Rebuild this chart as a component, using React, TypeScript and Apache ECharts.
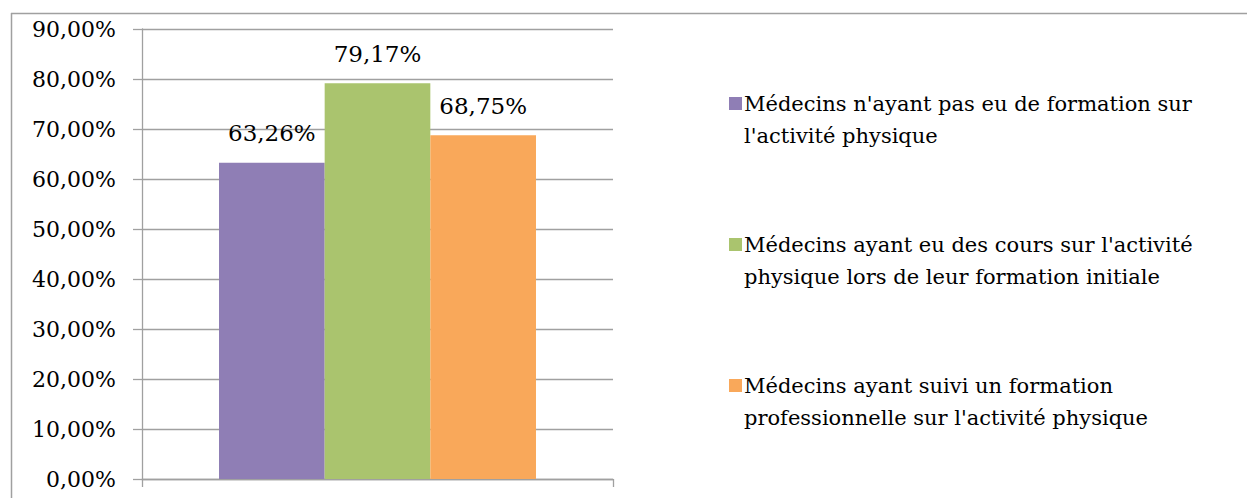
import React, { useEffect, useRef } from "react";
import * as echarts from "echarts";

const categories = [""];
const seriesNames = [
  "Médecins n'ayant pas eu de formation sur\nl'activité physique",
  "Médecins ayant eu des cours sur l'activité\nphysique lors de leur formation initiale",
  "Médecins ayant suivi un formation\nprofessionnelle sur l'activité physique",
];
const seriesValues = [63.26, 79.17, 68.75];
const seriesColors = ["#8F7EB5", "#AAC46E", "#F9A85A"];
const yMin = 0;
const yMax = 90;
const yInterval = 10;

const FONT = "DejaVu Serif";
const fmt = (v: number) => v.toFixed(2).replace(".", ",") + "%";

export default function App() {
  const ref = useRef<HTMLDivElement>(null);
  useEffect(() => {
    document.body.style.margin = "0";
    const chart = echarts.init(ref.current!, null, { renderer: "svg" });
    const rich: any = {
      t: { fontFamily: FONT, fontSize: 21, color: "#000", lineHeight: 32 },
      ind: { width: 15, height: 10, lineHeight: 32 },
      gap: { width: 2, lineHeight: 32 },
    };
    seriesColors.forEach((c, i) => {
      rich["sq" + i] = {
        width: 13,
        height: 13,
        backgroundColor: c,
        lineHeight: 32,
        verticalAlign: "middle",
      };
    });
    chart.setOption({
      animation: false,
      backgroundColor: "#fff",
      textStyle: { fontFamily: FONT },
      graphic: [
        {
          type: "line",
          shape: { x1: 11.5, y1: 13, x2: 11.5, y2: 498 },
          style: { stroke: "#a0a0a0", lineWidth: 1.5 },
        },
        {
          type: "line",
          shape: { x1: 11, y1: 13.5, x2: 1247, y2: 13.5 },
          style: { stroke: "#a0a0a0", lineWidth: 1.5 },
        },
      ],
      legend: {
        orient: "vertical",
        left: 724,
        top: 93,
        padding: 0,
        itemGap: 88,
        icon: "none",
        itemWidth: 0,
        itemHeight: 0,
        selectedMode: false,
        data: seriesNames,
        formatter: (name: string) => {
          const i = seriesNames.indexOf(name);
          const lines = name.split("\n");
          return `{sq${i}|}{gap|}{t|${lines[0]}}\n{ind|}{t|${lines[1]}}`;
        },
        textStyle: { rich, fontFamily: FONT, fontSize: 21, color: "#000" },
      },
      grid: { left: 142, right: 634, top: 29, bottom: 19 },
      xAxis: {
        type: "category",
        data: categories,
        axisLine: { show: true, lineStyle: { color: "#a0a0a0", width: 1.3 } },
        axisTick: { show: true, length: 8, lineStyle: { color: "#a0a0a0", width: 1.3 } },
        axisLabel: { show: false },
        splitLine: { show: false },
      },
      yAxis: {
        type: "value",
        min: yMin,
        max: yMax,
        interval: yInterval,
        axisLine: { show: true, lineStyle: { color: "#a0a0a0", width: 1.3 } },
        axisTick: { show: true, length: 9, lineStyle: { color: "#a0a0a0", width: 1.3 } },
        splitLine: { show: true, lineStyle: { color: "#a0a0a0", width: 1.3 } },
        axisLabel: {
          margin: 26,
          color: "#000",
          fontFamily: FONT,
          fontSize: 22,
          formatter: (v: number) => fmt(v),
        },
      },
      series: seriesNames.map((n, i) => ({
        type: "bar",
        name: n,
        data: [seriesValues[i]],
        itemStyle: { color: seriesColors[i] },
        barGap: "0%",
        barCategoryGap: "32.7%",
        label: {
          show: true,
          position: "top",
          distance: 18,
          color: "#000",
          fontFamily: FONT,
          fontSize: 23,
          formatter: (p: any) => fmt(p.value),
        },
      })),
    });
    return () => chart.dispose();
  }, []);
  return <div ref={ref} style={{ width: 1247, height: 498 }} />;
}
